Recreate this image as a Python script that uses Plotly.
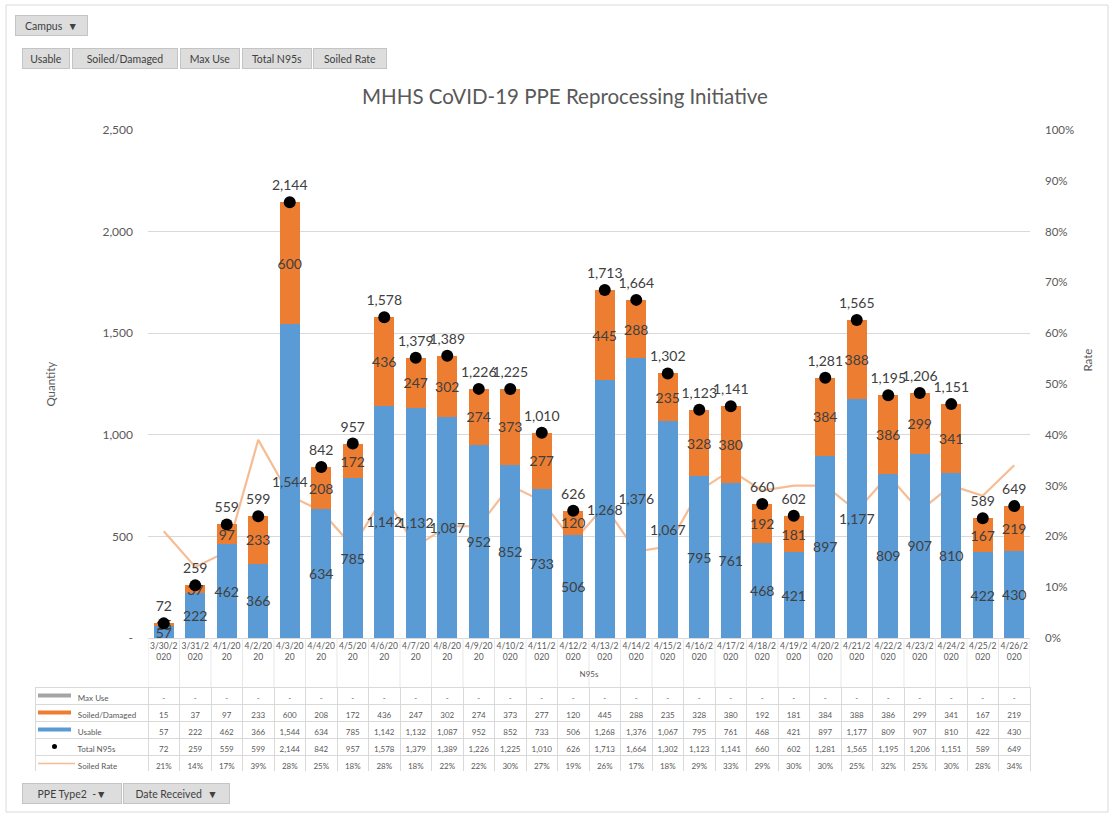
import plotly.graph_objects as go

# ---------------- data ----------------
dates = ["3/30/2020", "3/31/2020", "4/1/2020", "4/2/2020", "4/3/2020", "4/4/2020", "4/5/2020",
         "4/6/2020", "4/7/2020", "4/8/2020", "4/9/2020", "4/10/2020", "4/11/2020", "4/12/2020",
         "4/13/2020", "4/14/2020", "4/15/2020", "4/16/2020", "4/17/2020", "4/18/2020", "4/19/2020",
         "4/20/2020", "4/21/2020", "4/22/2020", "4/23/2020", "4/24/2020", "4/25/2020", "4/26/2020"]
usable = [57, 222, 462, 366, 1544, 634, 785, 1142, 1132, 1087, 952, 852, 733, 506,
          1268, 1376, 1067, 795, 761, 468, 421, 897, 1177, 809, 907, 810, 422, 430]
soiled = [15, 37, 97, 233, 600, 208, 172, 436, 247, 302, 274, 373, 277, 120,
          445, 288, 235, 328, 380, 192, 181, 384, 388, 386, 299, 341, 167, 219]
max_use = [0] * 28
total_n95 = [72, 259, 559, 599, 2144, 842, 957, 1578, 1379, 1389, 1226, 1225, 1010, 626,
             1713, 1664, 1302, 1123, 1141, 660, 602, 1281, 1565, 1195, 1206, 1151, 589, 649]
soiled_rate = [0.21, 0.14, 0.17, 0.39, 0.28, 0.25, 0.18, 0.28, 0.18, 0.22, 0.22, 0.30, 0.27, 0.19,
               0.26, 0.17, 0.18, 0.29, 0.33, 0.29, 0.30, 0.30, 0.25, 0.32, 0.25, 0.30, 0.28, 0.34]
series_names = ["Max Use", "Soiled/Damaged", "Usable", "Total N95s", "Soiled Rate"]
qty_ticks = [0, 500, 1000, 1500, 2000, 2500]
qty_ticktext = ["-", "500", "1,000", "1,500", "2,000", "2,500"]
title_text = "MHHS CoVID-19 PPE Reprocessing Initiative"

# ---------------- style ----------------
W, H = 1117, 815
FONT = "Lato"
GREY = "#595959"
DARK = "#404040"
BLUE = "#5B9BD5"
ORANGE = "#ED7D31"
MAXGREY = "#A5A5A5"
PEACH = "rgba(244,177,131,0.85)"
GRID = "#D9D9D9"


def px_x(v):
    return v / W


def px_y(v):
    return 1 - v / H


plot_l, plot_r, plot_t, plot_b = 148, 1030, 130, 638
tbl_l, tbl_t, row_h = 35, 687, 17
n = len(dates)
tick_labels = [d[:6] + "<br>" + d[6:] for d in dates]

fig = go.Figure()

# rate line on primary axis (drawn beneath bars)
fig.add_trace(go.Scatter(
    x=dates, y=soiled_rate, name="Soiled Rate", mode="lines",
    line=dict(color=PEACH, width=2.2), xaxis="x", yaxis="y", hoverinfo="x+y"))

bar_common = dict(xaxis="x", yaxis="y2", textposition="inside", insidetextanchor="middle",
                  constraintext="none", textangle=0, cliponaxis=False)
fig.add_trace(go.Bar(
    x=dates, y=usable, name="Usable", marker=dict(color=BLUE, line=dict(width=0)),
    texttemplate="%{y:,}", insidetextfont=dict(color=DARK, size=14, family=FONT), **bar_common))
fig.add_trace(go.Bar(
    x=dates, y=soiled, name="Soiled/Damaged", marker=dict(color=ORANGE, line=dict(width=0)),
    texttemplate="%{y:,}", insidetextfont=dict(color=DARK, size=14, family=FONT), **bar_common))
fig.add_trace(go.Bar(
    x=dates, y=max_use, name="Max Use", marker=dict(color=MAXGREY, line=dict(width=0)),
    xaxis="x", yaxis="y2"))

fig.add_trace(go.Scatter(
    x=dates, y=total_n95, name="Total N95s", mode="markers+text",
    marker=dict(color="black", size=12),
    text=[f"{v:,}" for v in total_n95], textposition="top center",
    textfont=dict(color=DARK, size=14, family=FONT),
    xaxis="x", yaxis="y2", cliponaxis=False))

# ---------------- data table ----------------
NB = "\u00a0"
pad = NB * 17
header_vals = [pad + series_names[0]] + ["-" if v == 0 else f"{v:,}" for v in max_use]
cell_cols = [[pad + s for s in series_names[1:]]]
for i in range(n):
    cell_cols.append([f"{soiled[i]:,}", f"{usable[i]:,}", f"{total_n95[i]:,}",
                      f"{round(soiled_rate[i] * 100)}%"])

tfont = dict(family=FONT, size=8, color=GREY)
fig.add_trace(go.Table(
    domain=dict(x=[px_x(tbl_l), px_x(plot_r)], y=[px_y(tbl_t + 5 * row_h), px_y(tbl_t)]),
    columnwidth=[plot_l - tbl_l] + [(plot_r - plot_l) / n] * n,
    header=dict(values=header_vals, height=row_h, align=["left"] + ["center"] * n,
                fill_color="white", line_color=GRID, font=tfont),
    cells=dict(values=cell_cols, height=row_h, align=["left"] + ["center"] * n,
               fill_color="white", line_color=GRID, font=tfont),
))

# ---------------- layout ----------------
shapes = [dict(type="rect", xref="paper", yref="paper", x0=px_x(6), x1=px_x(1108),
               y0=px_y(812), y1=px_y(5), line=dict(color=GRID, width=1), layer="below")]
for i in range(n + 1):
    shapes.append(dict(type="line", xref="x", yref="paper", x0=i - 0.5, x1=i - 0.5,
                       y0=px_y(tbl_t), y1=px_y(plot_b), line=dict(color="#E7E7E7", width=1)))

# legend keys inside the table's first column
key_x0, key_x1 = 38, 71
row_c = [tbl_t + row_h * (k + 0.5) for k in range(5)]
shapes += [
    dict(type="line", xref="paper", yref="paper", x0=px_x(key_x0), x1=px_x(key_x1),
         y0=px_y(row_c[0]), y1=px_y(row_c[0]), line=dict(color=MAXGREY, width=4)),
    dict(type="line", xref="paper", yref="paper", x0=px_x(key_x0), x1=px_x(key_x1),
         y0=px_y(row_c[1]), y1=px_y(row_c[1]), line=dict(color=ORANGE, width=4)),
    dict(type="line", xref="paper", yref="paper", x0=px_x(key_x0), x1=px_x(key_x1),
         y0=px_y(row_c[2]), y1=px_y(row_c[2]), line=dict(color=BLUE, width=4)),
    dict(type="circle", xref="paper", yref="paper", x0=px_x(52), x1=px_x(57),
         y0=px_y(row_c[3] + 2.5), y1=px_y(row_c[3] - 2.5),
         fillcolor="black", line=dict(color="black", width=0)),
    dict(type="line", xref="paper", yref="paper", x0=px_x(key_x0), x1=px_x(key_x1 + 4),
         y0=px_y(row_c[4]), y1=px_y(row_c[4]), line=dict(color=PEACH, width=1.5)),
]


def button(text, cx, cy, w, h):
    return dict(text=text, xref="paper", yref="paper", x=px_x(cx), y=px_y(cy),
                xanchor="center", yanchor="middle", showarrow=False,
                width=w - 6, height=h - 6, borderpad=2,
                bgcolor="#DDDDDD", bordercolor="#C4C4C4", borderwidth=1,
                font=dict(family=FONT, size=10.5, color=DARK))


annotations = [
    button("Campus  ▼", 51.5, 25, 73, 21),
    button("Usable", 46, 58, 48, 21),
    button("Soiled/Damaged", 125, 58, 106, 21),
    button("Max Use", 210, 58, 60, 21),
    button("Total N95s", 277, 58, 70, 21),
    button("Soiled Rate", 350, 58, 74, 21),
    button("PPE Type2  -▼", 72, 793, 100, 21),
    button("Date Received  ▼", 176.5, 793, 107, 21),
    dict(text="Quantity", xref="paper", yref="paper", x=px_x(42), y=px_y(384),
         textangle=-90, showarrow=False, font=dict(family=FONT, size=11.5, color=GREY)),
    dict(text="Rate", xref="paper", yref="paper", x=px_x(1095), y=px_y(360),
         textangle=-90, showarrow=False, font=dict(family=FONT, size=11.5, color=GREY)),
]

fig.update_layout(
    width=W, height=H,
    margin=dict(l=0, r=0, t=0, b=0),
    paper_bgcolor="white", plot_bgcolor="white",
    font=dict(family=FONT, color=GREY),
    showlegend=False,
    barmode="stack", bargap=0.38,
    title=dict(text=title_text, x=px_x(565), y=px_y(97), xref="paper", yref="paper",
               xanchor="center", yanchor="middle",
               font=dict(family=FONT, size=20.5, color=GREY)),
    xaxis=dict(type="category", domain=[px_x(plot_l), px_x(plot_r)], anchor="y2",
               range=[-0.5, n - 0.5], autorange=False,
               tickvals=dates, ticktext=tick_labels, tickfont=dict(size=8.5, color=GREY),
               showline=True, linecolor=GRID, linewidth=1, ticks="", showgrid=False,
               title=dict(text="N95s", font=dict(size=8, color=GREY), standoff=10),
               automargin=False),
    yaxis=dict(domain=[px_y(plot_b), px_y(plot_t)], range=[0, 1], side="right",
               dtick=0.1, tickformat=".0%", showgrid=False, zeroline=False,
               tickfont=dict(size=11.5, color=GREY), ticklabelstandoff=14, automargin=False),
    yaxis2=dict(overlaying="y", side="left", range=[0, 2500], tickvals=qty_ticks,
                ticktext=qty_ticktext, showgrid=True, gridcolor=GRID, gridwidth=1,
                zeroline=False, tickfont=dict(size=12, color=GREY), ticklabelstandoff=14,
                automargin=False),
    shapes=shapes,
    annotations=annotations,
)

fig.write_html("out.html")
